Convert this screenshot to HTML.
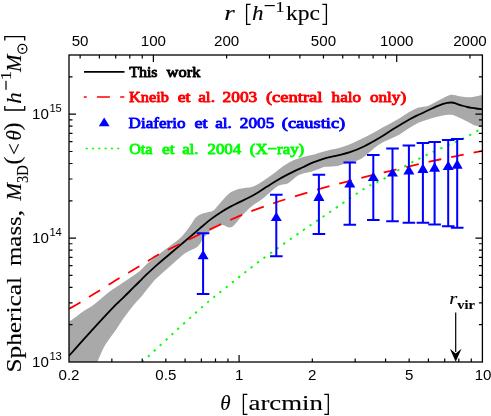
<!DOCTYPE html>
<html><head><meta charset="utf-8"><title>Mass profile</title>
<style>html,body{margin:0;padding:0;background:#fff;}body{width:491px;height:416px;overflow:hidden;}svg{display:block;will-change:transform;}text{font-family:"Liberation Sans",sans-serif;}.tk{font-size:15.1px;fill:#000;}.sup{font-size:11.2px;}.ser{font-family:"Liberation Serif",serif;stroke:#000;stroke-width:0.12px;}.leg{font-family:"Liberation Serif",serif;font-weight:normal;font-size:15.5px;stroke-width:0.9px;paint-order:stroke;stroke-linejoin:round;}</style>
</head><body>
<svg width="491" height="416" viewBox="0 0 491 416">
<rect x="0" y="0" width="491" height="416" fill="#ffffff"/>
<defs><clipPath id="cp"><rect x="69.00" y="55.00" width="413.40" height="307.00"/></clipPath></defs>
<g clip-path="url(#cp)">
<path d="M69.00 321.70 C70.13 320.92 73.47 318.68 75.80 317.00 C78.13 315.32 80.30 313.42 83.00 311.60 C85.70 309.78 89.00 308.23 92.00 306.10 C95.00 303.97 98.00 301.27 101.00 298.80 C104.00 296.33 107.58 293.18 110.00 291.30 C112.42 289.42 112.43 289.57 115.50 287.50 C118.57 285.43 124.48 281.53 128.40 278.90 C132.32 276.27 135.73 274.33 139.00 271.70 C142.27 269.07 145.00 265.75 148.00 263.10 C151.00 260.45 154.00 258.15 157.00 255.80 C160.00 253.45 163.00 251.27 166.00 249.00 C169.00 246.73 172.28 244.38 175.00 242.20 C177.72 240.02 180.18 238.05 182.30 235.90 C184.42 233.75 186.05 231.48 187.70 229.30 C189.35 227.12 190.85 224.75 192.20 222.80 C193.55 220.85 194.30 219.05 195.80 217.60 C197.30 216.15 199.10 215.03 201.20 214.10 C203.30 213.17 206.30 212.65 208.40 212.00 C210.50 211.35 212.00 211.52 213.80 210.20 C215.60 208.88 217.40 206.15 219.20 204.10 C221.00 202.05 222.80 199.80 224.60 197.90 C226.40 196.00 227.93 194.12 230.00 192.70 C232.07 191.28 234.83 190.15 237.00 189.40 C239.17 188.65 241.00 188.50 243.00 188.20 C245.00 187.90 247.00 188.02 249.00 187.60 C251.00 187.18 252.90 186.63 255.00 185.70 C257.10 184.77 259.30 183.45 261.60 182.00 C263.90 180.55 266.40 178.72 268.80 177.00 C271.20 175.28 273.30 173.68 276.00 171.70 C278.70 169.72 282.00 167.03 285.00 165.10 C288.00 163.17 291.00 161.47 294.00 160.10 C297.00 158.73 300.00 157.75 303.00 156.90 C306.00 156.05 308.23 156.00 312.00 155.00 C315.77 154.00 321.30 152.02 325.60 150.90 C329.90 149.78 333.73 149.42 337.80 148.30 C341.87 147.18 345.57 146.02 350.00 144.20 C354.43 142.38 359.60 139.82 364.40 137.40 C369.20 134.98 373.98 132.30 378.80 129.70 C383.62 127.10 389.77 123.75 393.30 121.80 C396.83 119.85 397.33 119.62 400.00 118.00 C402.67 116.38 406.22 113.83 409.30 112.10 C412.38 110.37 415.42 108.63 418.50 107.60 C421.58 106.57 424.70 106.97 427.80 105.90 C430.90 104.83 434.02 102.78 437.10 101.20 C440.18 99.62 443.83 97.47 446.30 96.40 C448.77 95.33 449.73 94.82 451.90 94.80 C454.07 94.78 456.83 95.90 459.30 96.30 C461.77 96.70 464.23 97.13 466.70 97.20 C469.17 97.27 471.48 97.07 474.10 96.70 C476.72 96.33 481.02 95.28 482.40 95.00 L482.40 127.20 C481.02 126.87 476.40 126.02 474.10 125.20 C471.80 124.38 470.75 123.40 468.60 122.30 C466.45 121.20 463.68 119.78 461.20 118.60 C458.72 117.42 456.18 115.82 453.70 115.20 C451.22 114.58 449.07 114.63 446.30 114.90 C443.53 115.17 440.18 116.05 437.10 116.80 C434.02 117.55 430.90 118.40 427.80 119.40 C424.70 120.40 421.58 121.35 418.50 122.80 C415.42 124.25 412.38 126.20 409.30 128.10 C406.22 130.00 402.67 132.63 400.00 134.20 C397.33 135.77 396.83 135.75 393.30 137.50 C389.77 139.25 383.62 141.53 378.80 144.70 C373.98 147.87 367.75 153.97 364.40 156.50 C361.05 159.03 361.10 158.85 358.70 159.90 C356.30 160.95 352.27 162.18 350.00 162.80 C347.73 163.42 347.13 163.08 345.10 163.60 C343.07 164.12 341.05 165.37 337.80 165.90 C334.55 166.43 328.57 166.35 325.60 166.80 C322.63 167.25 322.27 167.82 320.00 168.60 C317.73 169.38 314.52 170.75 312.00 171.50 C309.48 172.25 307.28 172.40 304.90 173.10 C302.52 173.80 299.80 174.55 297.70 175.70 C295.60 176.85 293.97 178.70 292.30 180.00 C290.63 181.30 289.52 182.70 287.70 183.50 C285.88 184.30 283.35 184.18 281.40 184.80 C279.45 185.42 278.40 185.50 276.00 187.20 C273.60 188.90 269.50 192.87 267.00 195.00 C264.50 197.13 263.17 198.42 261.00 200.00 C258.83 201.58 256.17 202.92 254.00 204.50 C251.83 206.08 249.88 207.75 248.00 209.50 C246.12 211.25 244.48 212.98 242.70 215.00 C240.92 217.02 238.97 219.68 237.30 221.60 C235.63 223.52 234.22 225.55 232.70 226.50 C231.18 227.45 229.70 227.50 228.20 227.30 C226.70 227.10 225.50 225.70 223.70 225.30 C221.90 224.90 219.53 224.13 217.40 224.90 C215.27 225.67 213.20 227.75 210.90 229.90 C208.60 232.05 205.37 235.53 203.60 237.80 C201.83 240.07 201.45 241.93 200.30 243.50 C199.15 245.07 198.20 246.13 196.70 247.20 C195.20 248.27 193.10 248.97 191.30 249.90 C189.50 250.83 187.70 251.63 185.90 252.80 C184.10 253.97 182.92 254.88 180.50 256.90 C178.08 258.92 174.42 262.22 171.40 264.90 C168.38 267.58 165.40 270.22 162.40 273.00 C159.40 275.78 156.72 277.90 153.40 281.60 C150.08 285.30 145.82 291.27 142.50 295.20 C139.18 299.13 136.50 301.57 133.50 305.20 C130.50 308.83 127.50 312.78 124.50 317.00 C121.50 321.22 118.22 326.58 115.50 330.50 C112.78 334.42 110.32 337.33 108.20 340.50 C106.08 343.67 104.60 345.92 102.80 349.50 C101.00 353.08 98.30 359.92 97.40 362.00 L69 362 Z" fill="#a9a9a9" stroke="none"/>
<path d="M69.00 355.90 C71.33 353.27 77.67 346.03 83.00 340.10 C88.33 334.17 95.88 325.83 101.00 320.30 C106.12 314.77 110.68 310.02 113.70 306.90 C116.72 303.78 116.55 304.08 119.10 301.60 C121.65 299.12 125.68 295.27 129.00 292.00 C132.32 288.73 135.83 285.13 139.00 282.00 C142.17 278.87 145.00 276.05 148.00 273.20 C151.00 270.35 154.00 267.57 157.00 264.90 C160.00 262.23 163.00 259.75 166.00 257.20 C169.00 254.65 172.00 252.13 175.00 249.60 C178.00 247.07 180.83 244.68 184.00 242.00 C187.17 239.32 190.83 236.22 194.00 233.50 C197.17 230.78 200.00 228.22 203.00 225.70 C206.00 223.18 209.00 220.65 212.00 218.40 C215.00 216.15 218.00 214.12 221.00 212.20 C224.00 210.28 227.00 208.53 230.00 206.90 C233.00 205.27 235.83 203.97 239.00 202.40 C242.17 200.83 245.83 199.17 249.00 197.50 C252.17 195.83 255.00 194.22 258.00 192.40 C261.00 190.58 264.00 188.50 267.00 186.60 C270.00 184.70 273.00 182.78 276.00 181.00 C279.00 179.22 282.00 177.50 285.00 175.90 C288.00 174.30 291.00 172.85 294.00 171.40 C297.00 169.95 299.78 168.70 303.00 167.20 C306.22 165.70 309.53 163.92 313.30 162.40 C317.07 160.88 321.52 159.28 325.60 158.10 C329.68 156.92 333.73 156.28 337.80 155.30 C341.87 154.32 345.57 153.72 350.00 152.20 C354.43 150.68 359.60 148.52 364.40 146.20 C369.20 143.88 373.98 141.15 378.80 138.30 C383.62 135.45 388.22 132.23 393.30 129.10 C398.38 125.97 405.10 121.88 409.30 119.50 C413.50 117.12 415.42 116.30 418.50 114.80 C421.58 113.30 425.05 111.78 427.80 110.50 C430.55 109.22 433.12 107.95 435.00 107.10 C436.88 106.25 437.75 105.93 439.10 105.40 C440.45 104.87 441.75 104.32 443.10 103.90 C444.45 103.48 445.77 103.13 447.20 102.90 C448.63 102.67 450.33 102.43 451.70 102.50 C453.07 102.57 454.12 102.92 455.40 103.30 C456.68 103.68 458.05 104.35 459.40 104.80 C460.75 105.25 462.13 105.63 463.50 106.00 C464.87 106.37 466.23 106.70 467.60 107.00 C468.97 107.30 470.30 107.55 471.70 107.80 C473.10 108.05 474.22 108.27 476.00 108.50 C477.78 108.73 481.33 109.08 482.40 109.20" fill="none" stroke="#000" stroke-width="1.8"/>
<path d="M69.00 308.90 C70.87 307.82 74.95 305.57 80.20 302.40 C85.45 299.23 93.87 294.02 100.50 289.90 C107.13 285.78 113.48 281.65 120.00 277.70 C126.52 273.75 133.08 270.13 139.60 266.20 C146.12 262.27 152.47 257.75 159.10 254.10 C165.73 250.45 172.48 247.67 179.40 244.30 C186.32 240.93 193.40 237.37 200.60 233.90 C207.80 230.43 215.48 226.77 222.60 223.50 C229.72 220.23 235.97 217.28 243.30 214.30 C250.63 211.32 259.68 208.07 266.60 205.60 C273.52 203.13 278.15 201.63 284.80 199.50 C291.45 197.37 299.20 194.98 306.50 192.80 C313.80 190.62 321.30 188.40 328.60 186.40 C335.90 184.40 343.05 182.67 350.30 180.80 C357.55 178.93 364.67 177.03 372.10 175.20 C379.53 173.37 387.30 171.62 394.90 169.80 C402.50 167.98 410.22 166.02 417.70 164.30 C425.18 162.58 432.38 161.07 439.80 159.50 C447.22 157.93 455.10 156.35 462.20 154.90 C469.30 153.45 479.03 151.48 482.40 150.80" fill="none" stroke="#ff0000" stroke-width="1.8" stroke-dasharray="13 10" stroke-dashoffset="-0.3"/>
<path d="M142.30 362.00 C147.25 357.42 161.88 343.78 172.00 334.50 C182.12 325.22 194.07 314.08 203.00 306.30 C211.93 298.52 216.10 295.37 225.60 287.80 C235.10 280.23 247.00 270.53 260.00 260.90 C273.00 251.27 291.93 238.15 303.60 230.00 C315.27 221.85 319.80 218.93 330.00 212.00 C340.20 205.07 355.75 193.97 364.80 188.40 C373.85 182.83 377.57 182.32 384.30 178.60 C391.03 174.88 398.13 170.05 405.20 166.10 C412.27 162.15 419.45 158.42 426.70 154.90 C433.95 151.38 442.65 147.70 448.70 145.00 C454.75 142.30 458.22 141.05 463.00 138.70 C467.78 136.35 474.17 132.63 477.40 130.90 C480.63 129.17 481.57 128.73 482.40 128.30" fill="none" stroke="#00ff00" stroke-width="1.9" stroke-dasharray="2.3 5.7" stroke-dashoffset="0.15"/>
</g>
<path d="M203.10 233.30 V294.00 M196.80 233.30 h12.6 M196.80 294.00 h12.6" stroke="#0000ff" stroke-width="2" fill="none"/>
<path d="M203.10 249.90 L208.60 259.20 L197.60 259.20 Z" fill="#0000ff"/>
<path d="M276.30 194.80 V256.30 M270.00 194.80 h12.6 M270.00 256.30 h12.6" stroke="#0000ff" stroke-width="2" fill="none"/>
<path d="M276.30 211.90 L281.80 221.00 L270.80 221.00 Z" fill="#0000ff"/>
<path d="M318.90 174.70 V234.10 M312.60 174.70 h12.6 M312.60 234.10 h12.6" stroke="#0000ff" stroke-width="2" fill="none"/>
<path d="M318.90 191.10 L324.40 200.90 L313.40 200.90 Z" fill="#0000ff"/>
<path d="M349.80 162.50 V224.80 M343.50 162.50 h12.6 M343.50 224.80 h12.6" stroke="#0000ff" stroke-width="2" fill="none"/>
<path d="M349.80 177.90 L355.30 187.50 L344.30 187.50 Z" fill="#0000ff"/>
<path d="M373.30 155.00 V220.00 M367.00 155.00 h12.6 M367.00 220.00 h12.6" stroke="#0000ff" stroke-width="2" fill="none"/>
<path d="M373.30 171.70 L378.80 180.90 L367.80 180.90 Z" fill="#0000ff"/>
<path d="M392.50 148.60 V221.20 M386.20 148.60 h12.6 M386.20 221.20 h12.6" stroke="#0000ff" stroke-width="2" fill="none"/>
<path d="M392.50 168.00 L398.00 176.60 L387.00 176.60 Z" fill="#0000ff"/>
<path d="M408.90 145.50 V222.80 M402.60 145.50 h12.6 M402.60 222.80 h12.6" stroke="#0000ff" stroke-width="2" fill="none"/>
<path d="M408.90 165.00 L414.40 174.60 L403.40 174.60 Z" fill="#0000ff"/>
<path d="M422.90 142.90 V222.80 M416.60 142.90 h12.6 M416.60 222.80 h12.6" stroke="#0000ff" stroke-width="2" fill="none"/>
<path d="M422.90 163.60 L428.40 173.10 L417.40 173.10 Z" fill="#0000ff"/>
<path d="M434.60 142.00 V224.60 M428.30 142.00 h12.6 M428.30 224.60 h12.6" stroke="#0000ff" stroke-width="2" fill="none"/>
<path d="M434.60 162.20 L440.10 171.70 L429.10 171.70 Z" fill="#0000ff"/>
<path d="M448.20 140.00 V226.20 M441.90 140.00 h12.6 M441.90 226.20 h12.6" stroke="#0000ff" stroke-width="2" fill="none"/>
<path d="M448.20 160.70 L453.70 170.00 L442.70 170.00 Z" fill="#0000ff"/>
<path d="M457.20 139.10 V227.80 M450.90 139.10 h12.6 M450.90 227.80 h12.6" stroke="#0000ff" stroke-width="2" fill="none"/>
<path d="M457.20 159.30 L462.70 168.80 L451.70 168.80 Z" fill="#0000ff"/>
<rect x="69.00" y="55.00" width="413.40" height="307.00" fill="none" stroke="#000" stroke-width="1.3"/>
<path d="M111.85 362.00 v-3.50 M142.25 362.00 v-3.50 M165.83 362.00 v-3.50 M185.10 362.00 v-3.50 M201.38 362.00 v-3.50 M215.50 362.00 v-3.50 M227.94 362.00 v-3.50 M239.08 362.00 v-7.00 M312.32 362.00 v-3.50 M355.17 362.00 v-3.50 M385.57 362.00 v-3.50 M409.15 362.00 v-3.50 M428.42 362.00 v-3.50 M444.71 362.00 v-3.50 M458.82 362.00 v-3.50 M471.27 362.00 v-3.50 M80.13 55.00 v3.50 M99.40 55.00 v3.50 M115.69 55.00 v3.50 M129.80 55.00 v3.50 M142.25 55.00 v3.50 M153.38 55.00 v7.00 M226.63 55.00 v3.50 M269.48 55.00 v3.50 M299.88 55.00 v3.50 M323.46 55.00 v3.50 M342.72 55.00 v3.50 M359.01 55.00 v3.50 M373.13 55.00 v3.50 M385.57 55.00 v3.50 M396.71 55.00 v7.00 M469.95 55.00 v3.50 M69.00 324.70 h3.50 M482.40 324.70 h-3.50 M69.00 302.88 h3.50 M482.40 302.88 h-3.50 M69.00 287.40 h3.50 M482.40 287.40 h-3.50 M69.00 275.40 h3.50 M482.40 275.40 h-3.50 M69.00 265.59 h3.50 M482.40 265.59 h-3.50 M69.00 257.29 h3.50 M482.40 257.29 h-3.50 M69.00 250.11 h3.50 M482.40 250.11 h-3.50 M69.00 243.77 h3.50 M482.40 243.77 h-3.50 M69.00 238.10 h7.00 M482.40 238.10 h-7.00 M69.00 200.80 h3.50 M482.40 200.80 h-3.50 M69.00 178.98 h3.50 M482.40 178.98 h-3.50 M69.00 163.50 h3.50 M482.40 163.50 h-3.50 M69.00 151.50 h3.50 M482.40 151.50 h-3.50 M69.00 141.69 h3.50 M482.40 141.69 h-3.50 M69.00 133.39 h3.50 M482.40 133.39 h-3.50 M69.00 126.21 h3.50 M482.40 126.21 h-3.50 M69.00 119.87 h3.50 M482.40 119.87 h-3.50 M69.00 114.20 h7.00 M482.40 114.20 h-7.00 M69.00 76.90 h3.50 M482.40 76.90 h-3.50" stroke="#000" stroke-width="1.2" fill="none"/>
<text class="tk" x="69.00" y="380" text-anchor="middle">0.2</text>
<text class="tk" x="165.83" y="380" text-anchor="middle">0.5</text>
<text class="tk" x="239.08" y="380" text-anchor="middle">1</text>
<text class="tk" x="312.32" y="380" text-anchor="middle">2</text>
<text class="tk" x="409.15" y="380" text-anchor="middle">5</text>
<text class="tk" x="483.10" y="380" text-anchor="middle">10</text>
<text class="tk" x="80.13" y="46" text-anchor="middle">50</text>
<text class="tk" x="153.38" y="46" text-anchor="middle">100</text>
<text class="tk" x="226.63" y="46" text-anchor="middle">200</text>
<text class="tk" x="323.46" y="46" text-anchor="middle">500</text>
<text class="tk" x="396.71" y="46" text-anchor="middle">1000</text>
<text class="tk" x="469.95" y="46" text-anchor="middle">2000</text>
<text class="tk" x="32.0" y="367.00">10<tspan class="sup" dx="0.6" dy="-7">13</tspan></text>
<text class="tk" x="32.0" y="243.10">10<tspan class="sup" dx="0.6" dy="-7">14</tspan></text>
<text class="tk" x="32.0" y="119.20">10<tspan class="sup" dx="0.6" dy="-7">15</tspan></text>
<path d="M84 71.8 H124.5" stroke="#000" stroke-width="1.7"/>
<path d="M83.8 97 h2.9 M96.9 97 h13 M120.2 97 h4.1" stroke="#ff0000" stroke-width="1.6"/>
<path d="M104.2 117.4 L109.6 126.3 L98.8 126.3 Z" fill="#0000ff"/>
<path d="M85.7 148.6 H120.5" stroke="#00ff00" stroke-width="1.5" stroke-dasharray="2.1 4.2"/>
<text class="leg" x="129.2" y="76.5" fill="#000" stroke="#000" textLength="28.4" lengthAdjust="spacingAndGlyphs">This</text>
<text class="leg" x="166.5" y="76.5" fill="#000" stroke="#000" textLength="33.9" lengthAdjust="spacingAndGlyphs">work</text>
<text class="leg" x="129.1" y="102.0" fill="#ff0000" stroke="#ff0000" textLength="39.8" lengthAdjust="spacingAndGlyphs">Kneib</text>
<text class="leg" x="177.7" y="102.0" fill="#ff0000" stroke="#ff0000" textLength="12.9" lengthAdjust="spacingAndGlyphs">et</text>
<text class="leg" x="198.2" y="102.0" fill="#ff0000" stroke="#ff0000" textLength="16.8" lengthAdjust="spacingAndGlyphs">al.</text>
<text class="leg" x="222.6" y="102.0" fill="#ff0000" stroke="#ff0000" textLength="34.7" lengthAdjust="spacingAndGlyphs">2003</text>
<text class="leg" x="265.9" y="102.0" fill="#ff0000" stroke="#ff0000" textLength="56.6" lengthAdjust="spacingAndGlyphs">(central</text>
<text class="leg" x="331.6" y="102.0" fill="#ff0000" stroke="#ff0000" textLength="29.4" lengthAdjust="spacingAndGlyphs">halo</text>
<text class="leg" x="369.9" y="102.0" fill="#ff0000" stroke="#ff0000" textLength="36.3" lengthAdjust="spacingAndGlyphs">only)</text>
<text class="leg" x="128.6" y="127.6" fill="#0000ff" stroke="#0000ff" textLength="56.9" lengthAdjust="spacingAndGlyphs">Diaferio</text>
<text class="leg" x="194.5" y="127.6" fill="#0000ff" stroke="#0000ff" textLength="13.2" lengthAdjust="spacingAndGlyphs">et</text>
<text class="leg" x="215.2" y="127.6" fill="#0000ff" stroke="#0000ff" textLength="16.7" lengthAdjust="spacingAndGlyphs">al.</text>
<text class="leg" x="239.8" y="127.6" fill="#0000ff" stroke="#0000ff" textLength="34.5" lengthAdjust="spacingAndGlyphs">2005</text>
<text class="leg" x="281.8" y="127.6" fill="#0000ff" stroke="#0000ff" textLength="63.4" lengthAdjust="spacingAndGlyphs">(caustic)</text>
<text class="leg" x="129.2" y="153.5" fill="#00ff00" stroke="#00ff00" textLength="23.3" lengthAdjust="spacingAndGlyphs">Ota</text>
<text class="leg" x="161.9" y="153.5" fill="#00ff00" stroke="#00ff00" textLength="12.7" lengthAdjust="spacingAndGlyphs">et</text>
<text class="leg" x="182.2" y="153.5" fill="#00ff00" stroke="#00ff00" textLength="16.2" lengthAdjust="spacingAndGlyphs">al.</text>
<text class="leg" x="207.5" y="153.5" fill="#00ff00" stroke="#00ff00" textLength="33.5" lengthAdjust="spacingAndGlyphs">2004</text>
<text class="leg" x="249.8" y="153.5" fill="#00ff00" stroke="#00ff00" textLength="54.4" lengthAdjust="spacingAndGlyphs">(X−ray)</text>
<path d="M455.7 312.5 V352" stroke="#000" stroke-width="1.2"/>
<path d="M455.7 361.8 L449.9 348.8 L455.7 353.6 L461.5 348.8 Z" fill="#000"/>
<text class="ser" x="449.3" y="303.8" font-size="17" font-style="italic" textLength="8" lengthAdjust="spacingAndGlyphs">r</text>
<text class="ser" x="457.2" y="309" font-size="12.5" font-weight="bold" textLength="17.6" lengthAdjust="spacingAndGlyphs">vir</text>
<text class="ser" x="224.2" y="20.4" font-size="21" font-style="italic" textLength="10.5" lengthAdjust="spacingAndGlyphs">r</text>
<path d="M250.60 4.40 H246.60 V24.30 H250.60" fill="none" stroke="#000" stroke-width="1.30"/>
<text class="ser" x="252.0" y="20.4" font-size="21" font-style="italic" textLength="11.5" lengthAdjust="spacingAndGlyphs">h</text>
<rect x="264.6" y="5.0" width="10.2" height="1.2" fill="#000"/>
<text class="ser" x="275.4" y="11.5" font-size="15.5" textLength="9" lengthAdjust="spacingAndGlyphs">1</text>
<text class="ser" x="286" y="20.4" font-size="21" textLength="34" lengthAdjust="spacingAndGlyphs">kpc</text>
<path d="M322.40 4.40 H326.40 V24.30 H322.40" fill="none" stroke="#000" stroke-width="1.30"/>
<text class="ser" x="220.3" y="410" font-size="21" font-style="italic">θ</text>
<path d="M247.40 394.40 H243.40 V414.30 H247.40" fill="none" stroke="#000" stroke-width="1.30"/>
<text class="ser" x="248.5" y="410" font-size="21" textLength="74.5" lengthAdjust="spacingAndGlyphs">arcmin</text>
<path d="M324.30 394.40 H328.30 V414.30 H324.30" fill="none" stroke="#000" stroke-width="1.30"/>
<g transform="translate(21,0) rotate(-90)">
<text class="ser" x="-372.5" y="0" font-size="21" textLength="95.5" lengthAdjust="spacingAndGlyphs">Spherical</text>
<text class="ser" x="-266" y="0" font-size="21" textLength="56" lengthAdjust="spacingAndGlyphs">mass,</text>
<text class="ser" x="-200.6" y="0" font-size="21" font-style="italic">M</text>
<text class="ser" x="-183" y="7" font-size="16" textLength="17.8" lengthAdjust="spacingAndGlyphs">3D</text>
<text class="ser" x="-164.4" y="-1" font-size="24">(</text>
<text class="ser" x="-155" y="0" font-size="21">&lt;</text>
<text class="ser" x="-140.6" y="0" font-size="21" font-style="italic">θ</text>
<text class="ser" x="-130.4" y="-1" font-size="24">)</text>
<path d="M-106.00 -16.20 H-110.00 V3.70 H-106.00" fill="none" stroke="#000" stroke-width="1.30"/>
<text class="ser" x="-103.8" y="0" font-size="21" font-style="italic" textLength="11.5" lengthAdjust="spacingAndGlyphs">h</text>
<rect x="-89.8" y="-15.6" width="9" height="1.2" fill="#000"/>
<text class="ser" x="-80.1" y="-9.6" font-size="15.5" textLength="9" lengthAdjust="spacingAndGlyphs">1</text>
<text class="ser" x="-72" y="0" font-size="21" font-style="italic">M</text>
<circle cx="-48.8" cy="1.4" r="4.5" fill="none" stroke="#000" stroke-width="1.2"/><circle cx="-48.8" cy="1.4" r="1.1" fill="#000"/>
<path d="M-40.60 -16.20 H-36.60 V3.70 H-40.60" fill="none" stroke="#000" stroke-width="1.30"/>
</g>
</svg></body></html>
